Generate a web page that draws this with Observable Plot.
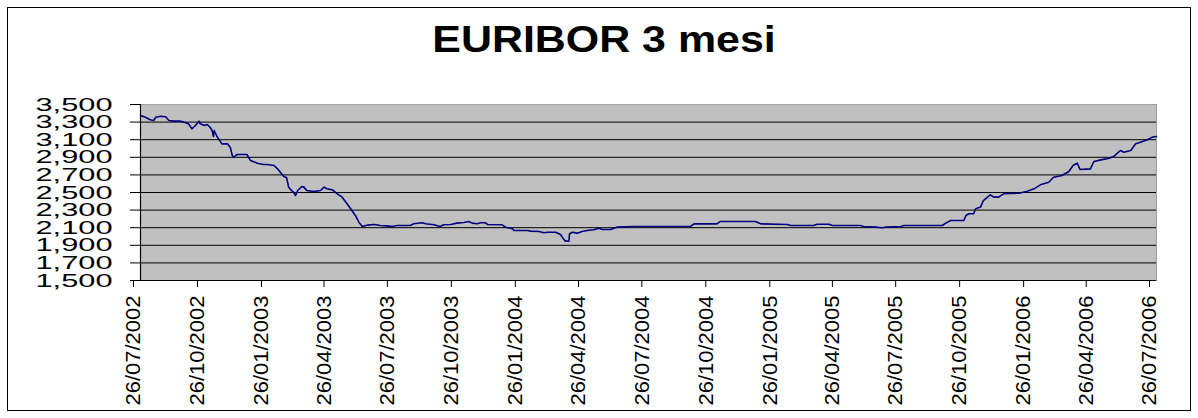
<!DOCTYPE html>
<html>
<head>
<meta charset="utf-8">
<script src="https://cdn.jsdelivr.net/npm/d3@7"></script>
<script src="https://cdn.jsdelivr.net/npm/@observablehq/plot@0.6"></script>
<style>
  html, body { margin: 0; padding: 0; background: #fff; }
  #wrap { position: relative; width: 1198px; height: 418px; overflow: hidden; }
  #frame { position: absolute; left: 7px; top: 7px; width: 1184px; height: 404px; border: 1px solid #000; box-sizing: border-box; }
  #title { position: absolute; left: 0; top: 21px; width: 1208px; text-align: center;
           font: bold 37px "Liberation Sans", Arial, sans-serif; line-height: 37px; color: #000;
           transform: scaleX(1.16); transform-origin: 604px 50%; }
  #chart { position: absolute; left: 0; top: 60px; }
</style>
</head>
<body>
<div id="wrap">
  <div id="frame"></div>
  <div id="title">EURIBOR 3 mesi</div>
  <div id="chart"></div>
</div>
<script>
const dates = [
  "2002-07-26","2002-08-02","2002-08-09","2002-08-14","2002-08-17","2002-08-24","2002-08-31","2002-09-05",
  "2002-09-12","2002-09-21","2002-09-29","2002-10-03","2002-10-08","2002-10-13","2002-10-18","2002-10-20",
  "2002-10-26","2002-10-30","2002-11-03","2002-11-06","2002-11-08","2002-11-09","2002-11-13","2002-11-20",
  "2002-11-28","2002-12-02","2002-12-05","2002-12-07","2002-12-12","2002-12-26","2002-12-31","2003-01-10",
  "2003-01-19","2003-01-24","2003-02-03","2003-02-08","2003-02-12","2003-02-17","2003-02-21","2003-02-24",
  "2003-02-28","2003-03-03","2003-03-06","2003-03-09","2003-03-15","2003-03-18","2003-03-22","2003-04-01",
  "2003-04-11","2003-04-16","2003-04-20","2003-04-28","2003-05-05","2003-05-12","2003-05-19","2003-05-26",
  "2003-05-31","2003-06-05","2003-06-10","2003-06-17","2003-06-27","2003-07-06","2003-07-18","2003-07-23",
  "2003-07-30","2003-08-18","2003-08-23","2003-09-04","2003-09-09","2003-09-21","2003-09-30","2003-10-05",
  "2003-10-15","2003-10-24","2003-11-03","2003-11-10","2003-11-15","2003-11-22","2003-11-27","2003-12-04",
  "2003-12-07","2003-12-28","2004-01-02","2004-01-12","2004-01-14","2004-02-02","2004-02-07","2004-02-19",
  "2004-02-26","2004-03-02","2004-03-14","2004-03-21","2004-03-25","2004-03-28","2004-04-02","2004-04-03",
  "2004-04-07","2004-04-14","2004-04-21","2004-04-28","2004-05-08","2004-05-15","2004-05-20","2004-06-01",
  "2004-06-10","2004-07-04","2004-09-24","2004-09-29","2004-11-01","2004-11-06","2004-12-26","2005-01-03",
  "2005-02-10","2005-02-15","2005-03-20","2005-03-25","2005-04-11","2005-04-16","2005-05-26","2005-05-31",
  "2005-06-19","2005-06-26","2005-07-01","2005-07-23","2005-07-28","2005-09-21","2005-09-26","2005-10-03",
  "2005-10-22","2005-10-25","2005-10-29","2005-11-05","2005-11-08","2005-11-15","2005-11-19","2005-11-25",
  "2005-11-29","2005-12-04","2005-12-11","2005-12-18","2006-01-09","2006-01-21","2006-01-31","2006-02-09",
  "2006-02-21","2006-02-28","2006-03-12","2006-03-22","2006-03-28","2006-04-03","2006-04-07","2006-04-22",
  "2006-04-27","2006-05-07","2006-05-19","2006-05-26","2006-06-04","2006-06-09","2006-06-19","2006-06-26",
  "2006-07-03","2006-07-13","2006-07-20","2006-07-26"
];
const values = [
  3.375,3.356,3.326,3.318,3.356,3.367,3.360,3.318,
  3.311,3.311,3.292,3.280,3.224,3.261,3.311,3.280,
  3.261,3.273,3.242,3.205,3.136,3.205,3.136,3.053,
  3.053,3.015,2.920,2.901,2.932,2.932,2.864,2.833,
  2.818,2.818,2.807,2.769,2.731,2.682,2.670,2.561,
  2.523,2.504,2.466,2.523,2.568,2.561,2.523,2.511,
  2.523,2.561,2.542,2.530,2.485,2.447,2.372,2.296,
  2.239,2.163,2.114,2.129,2.137,2.125,2.118,2.114,
  2.125,2.125,2.144,2.156,2.144,2.133,2.114,2.133,
  2.137,2.152,2.159,2.171,2.152,2.144,2.156,2.156,
  2.137,2.133,2.106,2.087,2.068,2.068,2.061,2.057,
  2.042,2.049,2.049,2.023,1.974,1.947,1.947,2.031,
  2.049,2.038,2.057,2.068,2.076,2.095,2.080,2.080,
  2.106,2.114,2.114,2.144,2.144,2.171,2.171,2.144,
  2.137,2.125,2.125,2.140,2.140,2.125,2.125,2.114,
  2.106,2.099,2.106,2.114,2.125,2.125,2.152,2.182,
  2.182,2.239,2.258,2.258,2.315,2.334,2.409,2.447,
  2.474,2.447,2.447,2.485,2.492,2.515,2.542,2.587,
  2.617,2.674,2.693,2.739,2.807,2.833,2.762,2.769,
  2.852,2.871,2.890,2.913,2.977,2.958,2.977,3.053,
  3.072,3.099,3.129,3.136
];
const xTickLabels = [
  "2002-07-26","2002-10-26","2003-01-26","2003-04-26","2003-07-26","2003-10-26","2004-01-26","2004-04-26",
  "2004-07-26","2004-10-26","2005-01-26","2005-04-26","2005-07-26","2005-10-26","2006-01-26","2006-04-26","2006-07-26"
];
const yTicks = [1.5, 1.7, 1.9, 2.1, 2.3, 2.5, 2.7, 2.9, 3.1, 3.3, 3.5];

const data = dates.map((d, i) => ({date: new Date(d), value: values[i]}));
const xTicks = xTickLabels.map(d => new Date(d));
const xDomain = [xTicks[0], xTicks[xTicks.length - 1]];
const yFmt = d => d3.format(".3f")(d).replace(".", ",");

const chart = Plot.plot({
  width: 1198,
  height: 358,
  marginTop: 44,
  marginBottom: 138,
  marginLeft: 140,
  marginRight: 42,
  style: {fontFamily: "'Liberation Sans', Arial, sans-serif", color: "#000", background: "transparent", overflow: "visible"},
  x: {type: "utc", domain: xDomain},
  y: {domain: [1.5, 3.5]},
  marks: [
    Plot.frame({fill: "#c0c0c0", stroke: "#a0a0a0"}),
    Plot.ruleY(yTicks.slice(1, -1), {stroke: "#000", strokeWidth: 1}),
    Plot.line(data, {x: "date", y: "value", stroke: "#000080", strokeWidth: 1.6}),
    Plot.ruleX([xDomain[0]], {stroke: "#000", strokeWidth: 1.2}),
    Plot.ruleY([1.5], {stroke: "#000", strokeWidth: 1.2}),
    Plot.axisY(yTicks, {tickFormat: yFmt, tickSize: 10, tickPadding: 18, fontSize: 19, label: null, stroke: "#000"}),
    Plot.axisX(xTicks, {tickFormat: d3.utcFormat("%d/%m/%Y"), tickRotate: -90, tickSize: 7, tickPadding: 8, fontSize: 21, label: null, dx: -7, stroke: "#000"})
  ]
});
document.getElementById("chart").appendChild(chart);
d3.select(chart).selectAll("g[aria-label='y-axis tick label'] text")
  .attr("textLength", 77).attr("lengthAdjust", "spacingAndGlyphs");
d3.select(chart).selectAll("g[aria-label='x-axis tick label'] text")
  .attr("textLength", 110).attr("lengthAdjust", "spacingAndGlyphs");
</script>
</body>
</html>
